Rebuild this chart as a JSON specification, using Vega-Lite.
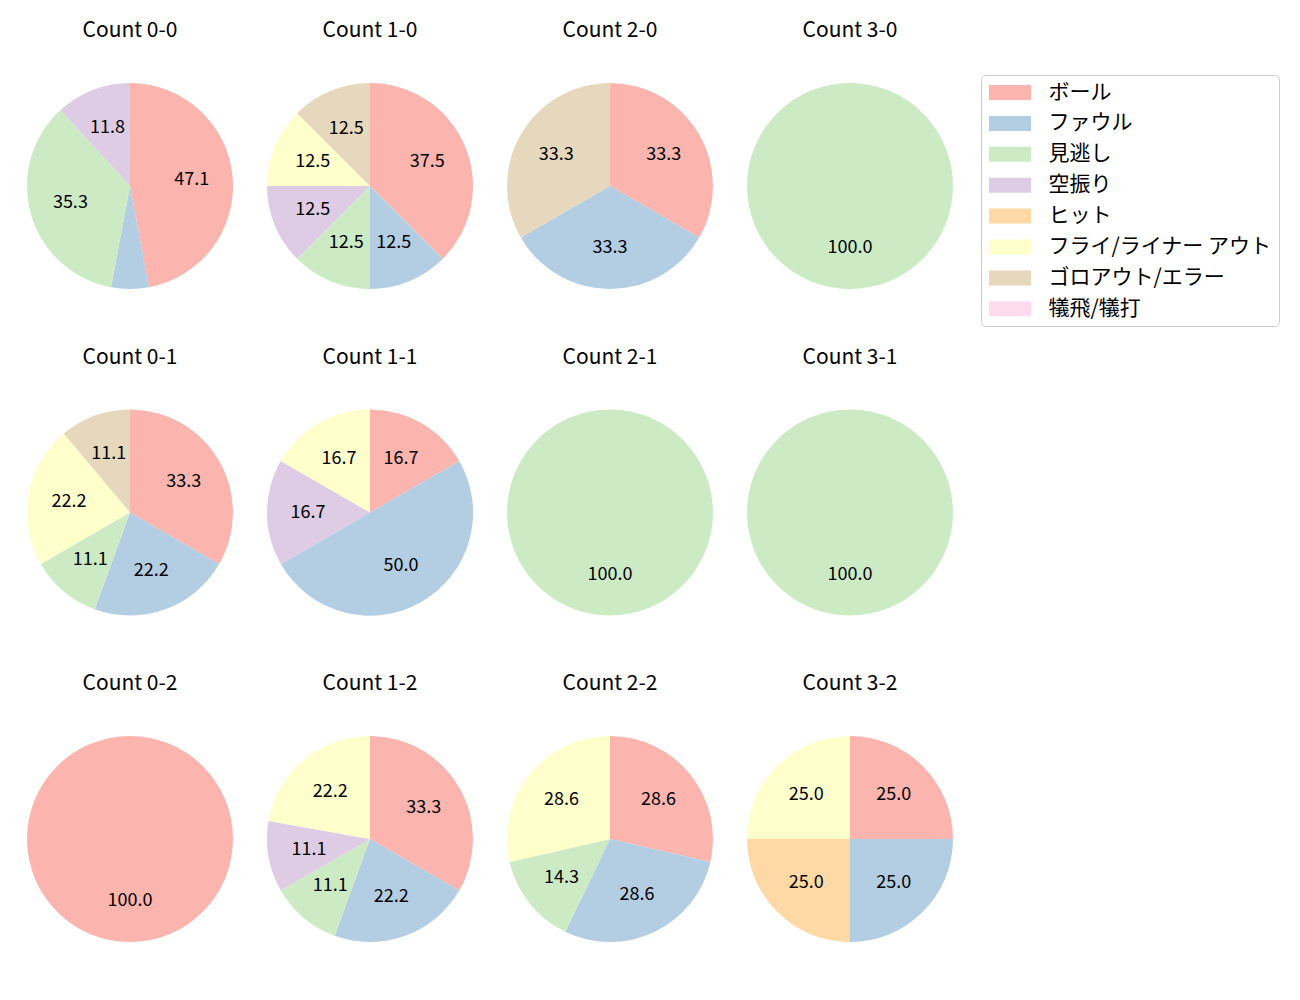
{
  "$schema": "https://vega.github.io/schema/vega-lite/v6.json",
  "padding": {"left": 10, "top": 20, "right": 0, "bottom": 0},
  "background": "white",
  "config": {"view": {"stroke": null}, "font": "Noto Sans CJK JP"},
  "data": {"values": [
    {"count": "Count 0-0", "kind": "ボール", "k": 0, "pct": 47.1},
    {"count": "Count 0-0", "kind": "ファウル", "k": 1, "pct": 5.9},
    {"count": "Count 0-0", "kind": "見逃し", "k": 2, "pct": 35.3},
    {"count": "Count 0-0", "kind": "空振り", "k": 3, "pct": 11.8},
    {"count": "Count 1-0", "kind": "ボール", "k": 0, "pct": 37.5},
    {"count": "Count 1-0", "kind": "ファウル", "k": 1, "pct": 12.5},
    {"count": "Count 1-0", "kind": "見逃し", "k": 2, "pct": 12.5},
    {"count": "Count 1-0", "kind": "空振り", "k": 3, "pct": 12.5},
    {"count": "Count 1-0", "kind": "フライ/ライナー アウト", "k": 5, "pct": 12.5},
    {"count": "Count 1-0", "kind": "ゴロアウト/エラー", "k": 6, "pct": 12.5},
    {"count": "Count 2-0", "kind": "ボール", "k": 0, "pct": 33.3},
    {"count": "Count 2-0", "kind": "ファウル", "k": 1, "pct": 33.3},
    {"count": "Count 2-0", "kind": "ゴロアウト/エラー", "k": 6, "pct": 33.3},
    {"count": "Count 3-0", "kind": "見逃し", "k": 2, "pct": 100.0},
    {"count": "Count 0-1", "kind": "ボール", "k": 0, "pct": 33.3},
    {"count": "Count 0-1", "kind": "ファウル", "k": 1, "pct": 22.2},
    {"count": "Count 0-1", "kind": "見逃し", "k": 2, "pct": 11.1},
    {"count": "Count 0-1", "kind": "フライ/ライナー アウト", "k": 5, "pct": 22.2},
    {"count": "Count 0-1", "kind": "ゴロアウト/エラー", "k": 6, "pct": 11.1},
    {"count": "Count 1-1", "kind": "ボール", "k": 0, "pct": 16.7},
    {"count": "Count 1-1", "kind": "ファウル", "k": 1, "pct": 50.0},
    {"count": "Count 1-1", "kind": "空振り", "k": 3, "pct": 16.7},
    {"count": "Count 1-1", "kind": "フライ/ライナー アウト", "k": 5, "pct": 16.7},
    {"count": "Count 2-1", "kind": "見逃し", "k": 2, "pct": 100.0},
    {"count": "Count 3-1", "kind": "見逃し", "k": 2, "pct": 100.0},
    {"count": "Count 0-2", "kind": "ボール", "k": 0, "pct": 100.0},
    {"count": "Count 1-2", "kind": "ボール", "k": 0, "pct": 33.3},
    {"count": "Count 1-2", "kind": "ファウル", "k": 1, "pct": 22.2},
    {"count": "Count 1-2", "kind": "見逃し", "k": 2, "pct": 11.1},
    {"count": "Count 1-2", "kind": "空振り", "k": 3, "pct": 11.1},
    {"count": "Count 1-2", "kind": "フライ/ライナー アウト", "k": 5, "pct": 22.2},
    {"count": "Count 2-2", "kind": "ボール", "k": 0, "pct": 28.6},
    {"count": "Count 2-2", "kind": "ファウル", "k": 1, "pct": 28.6},
    {"count": "Count 2-2", "kind": "見逃し", "k": 2, "pct": 14.3},
    {"count": "Count 2-2", "kind": "フライ/ライナー アウト", "k": 5, "pct": 28.6},
    {"count": "Count 3-2", "kind": "ボール", "k": 0, "pct": 25.0},
    {"count": "Count 3-2", "kind": "ファウル", "k": 1, "pct": 25.0},
    {"count": "Count 3-2", "kind": "ヒット", "k": 4, "pct": 25.0},
    {"count": "Count 3-2", "kind": "フライ/ライナー アウト", "k": 5, "pct": 25.0}
  ]},
  "facet": {
    "field": "count",
    "type": "nominal",
    "sort": ["Count 0-0", "Count 1-0", "Count 2-0", "Count 3-0", "Count 0-1", "Count 1-1", "Count 2-1", "Count 3-1", "Count 0-2", "Count 1-2", "Count 2-2", "Count 3-2"],
    "header": {"title": null, "labelFontSize": 21, "labelFont": "Noto Sans CJK JP", "labelColor": "black", "labelPadding": 25}
  },
  "columns": 4,
  "spacing": {"row": 40.5, "column": 0},
  "resolve": {"scale": {"theta": "independent"}},
  "spec": {
    "width": 240,
    "height": 240,
    "encoding": {
      "theta": {"field": "pct", "type": "quantitative", "stack": true},
      "order": {"field": "k", "type": "quantitative", "sort": "ascending"}
    },
    "layer": [
      {
        "mark": {"type": "arc", "outerRadius": 103},
        "encoding": {
          "color": {
            "field": "kind",
            "type": "nominal",
            "scale": {
              "domain": ["ボール", "ファウル", "見逃し", "空振り", "ヒット", "フライ/ライナー アウト", "ゴロアウト/エラー", "犠飛/犠打"],
              "range": ["#fbb4ae", "#b3cde3", "#ccebc5", "#decbe4", "#fed9a6", "#ffffcc", "#e5d8bd", "#fddaec"]
            },
            "legend": {
              "title": null,
              "orient": "none",
              "legendX": 971,
              "legendY": 9,
              "symbolType": "M-2.8,-1H2.8V1H-2.8Z",
              "symbolSize": 225,
              "symbolOffset": 11.5,
              "symbolStrokeWidth": 0,
              "symbolOpacity": 1,
              "labelFontSize": 21,
              "labelFont": "Noto Sans CJK JP",
              "labelColor": "black",
              "labelOffset": 28,
              "labelLimit": 400,
              "rowPadding": 8.9,
              "padding": 7,
              "strokeColor": "#cccccc",
              "cornerRadius": 4,
              "fillColor": "white"
            }
          }
        }
      },
      {
        "mark": {"type": "text", "radius": 62, "fontSize": 18, "font": "Noto Sans CJK JP", "color": "black"},
        "encoding": {
          "text": {"condition": {"test": "datum.pct < 10", "value": ""}, "field": "pct", "type": "quantitative", "format": ".1f"}
        }
      }
    ]
  }
}
